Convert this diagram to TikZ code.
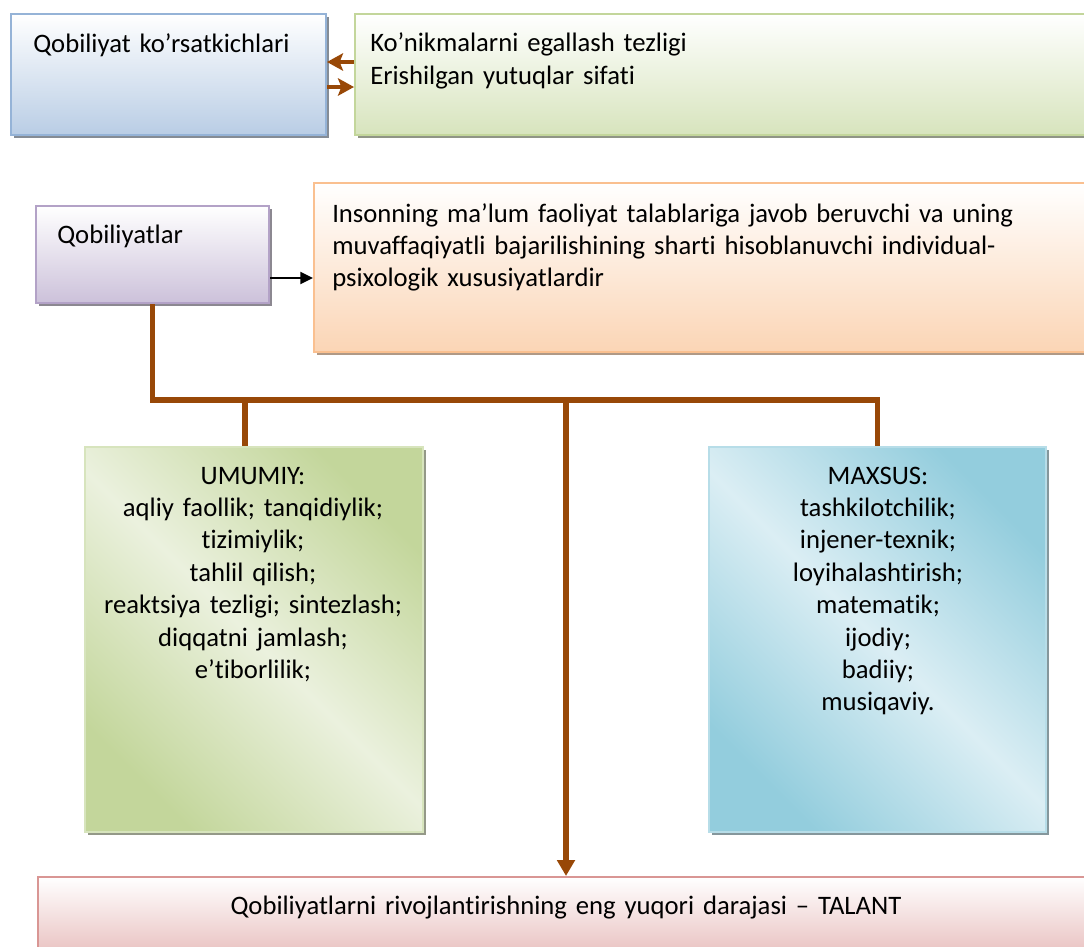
\documentclass[tikz,border=0pt]{standalone}
\usepackage{fontspec}
\setmainfont{Carlito}[Ligatures=NoCommon, WordSpace=0.9]
\usetikzlibrary{positioning,arrows.meta,shadows,calc}
\def\px{0.75pt}
\definecolor{brownline}{HTML}{984807}
\definecolor{blueedge}{HTML}{95B3D7}
\definecolor{bluefill}{HTML}{B9CDE5}
\definecolor{greenedge}{HTML}{C3D69B}
\definecolor{greenfill}{HTML}{D7E4BD}
\definecolor{purpleedge}{HTML}{B3A2C7}
\definecolor{purplefill}{HTML}{CCC1DA}
\definecolor{orangeedge}{HTML}{FAC090}
\definecolor{orangefill}{HTML}{FBD5B5}
\definecolor{pinkedge}{HTML}{D99694}
\definecolor{pinkfill}{HTML}{E6B9B8}
\definecolor{leafdark}{HTML}{C3D69B}
\definecolor{leaflight}{HTML}{EBF1DE}
\definecolor{leafedge}{HTML}{D7E4BD}
\definecolor{aquadark}{HTML}{93CDDD}
\definecolor{aqualight}{HTML}{DBEEF4}
\definecolor{aquaedge}{HTML}{B7DDE8}
\tikzset{
  boxshadow/.style={drop shadow={shadow xshift=2.4pt, shadow yshift=-2.4pt, fill=#1, opacity=1}},
  fadebox/.style 2 args={draw=#1, line width=1.5pt, inner sep=0pt, top color=white, bottom color=#2},
  diagbox/.style n args={3}{draw=#1, line width=1.5pt, inner sep=0pt, top color=#2, bottom color=#2, middle color=#3, shading angle=-45},
  boxtext/.style={inner sep=0pt, text width=#1, align=left},
  listtext/.style={inner sep=0pt, text width=#1, align=center},
  busline/.style={draw=brownline, line width=3.8pt, line join=miter},
  duoarrow/.style={-{Stealth[length=12pt, width=13pt, inset=2.5pt]}, draw=brownline, line width=3pt},
  downarrow/.style={-{Triangle[length=12pt, width=13pt]}, busline},
  blackarrow/.style={-{Triangle[length=9.5pt, width=9pt]}, line width=1.5pt}
}
\begin{document}
\begin{tikzpicture}[x=0.75pt, y=-0.75pt, every node/.style={font=\fontsize{20}{24.3}\selectfont}]
\useasboundingbox (0,0) rectangle (1084,946);
\clip (0,0) rectangle (1084,946);
% top row
\node[fadebox={blueedge}{bluefill}, boxshadow=gray!75!blueedge, minimum width={315*\px}, minimum height={121*\px}] (korsat) at (168.5,74.5) {};
\node[boxtext=220pt, anchor=base west] (korsat-t) at (33,52) {Qobiliyat ko’rsatkichlari};
\node[fadebox={greenedge}{greenfill}, boxshadow=gray!75!greenedge, minimum width={745*\px}, minimum height={121*\px}] (kon) at (727.5,74.5) {};
\node[boxtext=500pt, anchor=base west] (kon-t) at (370,51) {Ko’nikmalarni egallash tezligi\\[1pt]Erishilgan yutuqlar sifati};
\draw[duoarrow] (kon.west |- 0,62) -- (korsat.east |- 0,62);
\draw[duoarrow] (korsat.east |- 0,87) -- (kon.west |- 0,87);
% middle row
\node[fadebox={purpleedge}{purplefill}, boxshadow=gray!75!purpleedge, minimum width={233*\px}, minimum height={97*\px}] (qob) at (152.5,254.5) {};
\node[boxtext=150pt, anchor=base west] (qob-t) at (57,243) {Qobiliyatlar};
\node[fadebox={orangeedge}{orangefill}, boxshadow=gray!60!orangeedge, minimum width={786*\px}, minimum height={169*\px}] (tavsif) at (707,267.5) {};
\node[boxtext=570pt, anchor=base west] (tavsif-t) at (332,222) {Insonning ma’lum faoliyat talablariga javob beruvchi va uning\\muvaffaqiyatli bajarilishining sharti hisoblanuvchi individual-\\psixologik xususiyatlardir};
\draw[blackarrow] (qob.east |- 0,278) -- (tavsif.west |- 0,278);
% lower boxes
\node[diagbox={leafedge}{leafdark}{leaflight}, boxshadow=gray!70!leafdark, minimum width={338*\px}, minimum height={385*\px}] (umumiy) at (254,639.5) {};
\node[listtext=240pt, anchor=base] (umumiy-t) at (253,484) {UMUMIY:\\aqliy faollik; tanqidiylik;\\tizimiylik;\\tahlil qilish;\\reaktsiya tezligi; sintezlash;\\diqqatni jamlash;\\e’tiborlilik;};
\node[diagbox={aquaedge}{aquadark}{aqualight}, boxshadow=gray!70!aquadark, minimum width={337*\px}, minimum height={385*\px}] (maxsus) at (877.5,639.5) {};
\node[listtext=240pt, anchor=base] (maxsus-t) at (878,484) {MAXSUS:\\tashkilotchilik;\\injener-texnik;\\loyihalashtirish;\\matematik;\\ijodiy;\\badiiy;\\musiqaviy.};
\node[fadebox={pinkedge}{pinkfill}, minimum width={1062*\px}, minimum height={88*\px}] (talant) at (569,921) {};
\node[listtext=600pt, anchor=base] (talant-t) at (566,914) {Qobiliyatlarni rivojlantirishning eng yuqori darajasi – TALANT};
% connectors
\coordinate (bus) at (153,400);
\coordinate (jU) at (245,400);
\coordinate (jT) at (566,400);
\draw[busline] (qob.south) -- (qob.south |- bus) -- (maxsus.north |- bus) -- (maxsus.north);
\draw[busline] (jU) -- (jU |- umumiy.north);
\draw[downarrow] (jT) -- (jT |- talant.north);
\end{tikzpicture}
\end{document}
